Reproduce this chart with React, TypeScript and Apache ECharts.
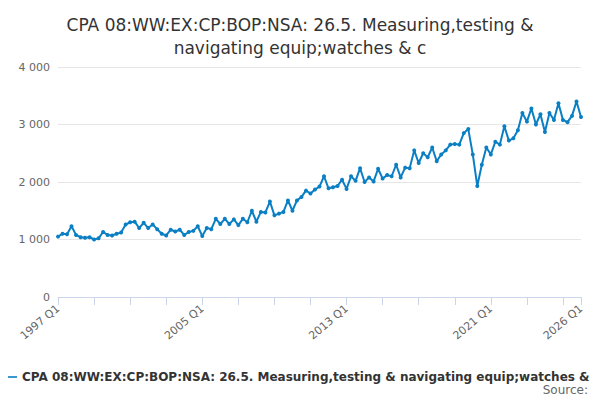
import { useEffect, useRef } from 'react'
import * as echarts from 'echarts'

const years = Array.from({ length: 30 }, (_, i) => 1997 + i)
const quarters = years.flatMap((y) => ['Q1', 'Q2', 'Q3', 'Q4'].map((q) => `${y} ${q}`)).slice(0, 117)

const values = [
  1050, 1100, 1090, 1230, 1080, 1040, 1030, 1040, 1000, 1020, 1130, 1080,
  1070, 1100, 1120, 1260, 1300, 1310, 1200, 1290, 1200, 1260, 1180, 1100,
  1070, 1170, 1140, 1170, 1080, 1130, 1150, 1230, 1060, 1200, 1180, 1360,
  1270, 1360, 1270, 1350, 1250, 1360, 1300, 1500, 1310, 1480, 1470, 1660,
  1420, 1450, 1480, 1680, 1500, 1680, 1740, 1850, 1800, 1870, 1920, 2100,
  1890, 1910, 1930, 2040, 1880, 2100, 2020, 2240, 2000, 2080, 2010, 2230,
  2060, 2120, 2100, 2300, 2080, 2250, 2240, 2550, 2330, 2500, 2430, 2600,
  2360, 2480, 2550, 2650, 2660, 2650, 2850, 2920, 2480, 1930, 2300, 2600,
  2480, 2700, 2650, 2970, 2720, 2760, 2900, 3200, 3050, 3280, 3000, 3180,
  2870, 3200, 3080, 3370, 3080, 3040, 3150, 3400, 3130,
]

const seriesName = 'CPA 08:WW:EX:CP:BOP:NSA: 26.5. Measuring,testing & navigating equip;watches & c'
const labelIdx = [0, 32, 64, 96, 116]

export default function App() {
  const ref = useRef<HTMLDivElement>(null)

  useEffect(() => {
    if (!ref.current) return
    const chart = echarts.init(ref.current, undefined, { renderer: 'svg' })
    chart.setOption({
      animation: false,
      textStyle: { fontFamily: 'DejaVu Sans' },
      title: {
        text: 'CPA 08:WW:EX:CP:BOP:NSA: 26.5. Measuring,testing &\nnavigating equip;watches & c',
        left: 'center',
        top: 0,
        textStyle: { fontSize: 17, fontWeight: 'normal', color: '#333', lineHeight: 23 },
      },
      grid: { left: 50, right: 11, top: 59, bottom: 103 },
      xAxis: {
        type: 'category',
        data: quarters,
        boundaryGap: false,
        axisLine: { lineStyle: { color: '#ccd6eb' } },
        axisTick: { alignWithLabel: true, interval: (i: number) => i % 8 === 0 || i === 116, lineStyle: { color: '#ccd6eb' }, length: 8 },
        axisLabel: {
          interval: (i: number) => labelIdx.includes(i),
          rotate: 40,
          color: '#666',
          fontSize: 11,
          margin: 10,
        },
      },
      yAxis: {
        type: 'value',
        min: 0,
        max: 4000,
        interval: 1000,
        axisLabel: {
          color: '#666',
          fontSize: 11,
          formatter: (v: number) => (v >= 1000 ? `${Math.floor(v / 1000)} ${String(v % 1000).padStart(3, '0')}` : `${v}`),
        },
        splitLine: { lineStyle: { color: '#e6e6e6' } },
      },
      legend: {
        left: -12,
        top: 358,
        icon: 'path://M0,0 L20,0 L20,2 L0,2 Z',
        itemWidth: 16,
        itemHeight: 2,
        textStyle: { fontSize: 12, color: '#333', fontWeight: 'bold' },
      },
      graphic: [
        { type: 'text', right: 4, top: 376, style: { text: 'Source:', fontSize: 12, fill: '#666', fontFamily: 'DejaVu Sans' } },
      ],
      series: [
        {
          name: seriesName,
          type: 'line',
          data: values,
          color: '#0a7fc4',
          symbol: 'circle',
          symbolSize: 4,
          showAllSymbol: true,
          lineStyle: { width: 2 },
        },
      ],
    })
    return () => chart.dispose()
  }, [])

  return <div ref={ref} style={{ width: 584, height: 392 }} />
}
